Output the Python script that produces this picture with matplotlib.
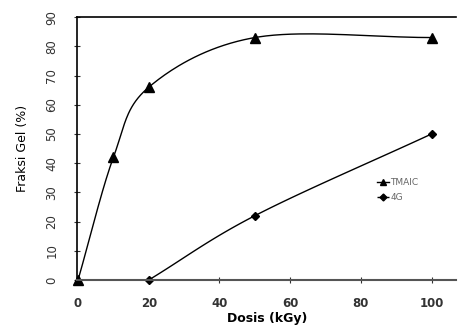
import matplotlib
matplotlib.use("Agg")
import matplotlib.pyplot as plt
import numpy as np

dosis_tmaic = [0, 10, 20, 50, 100]
gel_tmaic = [0, 42, 66, 83, 83]
dosis_4g = [20, 50, 100]
gel_4g = [0, 22, 50]
x_ticks = [0, 20, 40, 60, 80, 100]
y_ticks = [0, 10, 20, 30, 40, 50, 60, 70, 80, 90]


def smooth(xs, ys, n=40):
    # catmull-rom, mirip garis smooth excel
    xs = np.asarray(xs, float)
    ys = np.asarray(ys, float)
    px = np.concatenate([[2 * xs[0] - xs[1]], xs, [2 * xs[-1] - xs[-2]]])
    py = np.concatenate([[2 * ys[0] - ys[1]], ys, [2 * ys[-1] - ys[-2]]])
    ox, oy = [], []
    t = np.linspace(0, 1, n)
    for i in range(1, len(px) - 2):
        for arr, out in ((px, ox), (py, oy)):
            p0, p1, p2, p3 = arr[i - 1], arr[i], arr[i + 1], arr[i + 2]
            out.extend(0.5 * (2 * p1 + (-p0 + p2) * t
                              + (2 * p0 - 5 * p1 + 4 * p2 - p3) * t ** 2
                              + (-p0 + 3 * p1 - 3 * p2 + p3) * t ** 3))
    return np.array(ox), np.array(oy)


fig = plt.figure(figsize=(4.61, 3.29), dpi=100)
ax = fig.add_axes([0.167, 0.149, 0.823, 0.799])

sx, sy = smooth(dosis_tmaic, gel_tmaic)
ax.plot(sx, sy, color="black", lw=1)
ax.plot(dosis_tmaic, gel_tmaic, ls="none", marker="^", ms=7, color="black", clip_on=False)
sx, sy = smooth(dosis_4g, gel_4g)
ax.plot(sx, sy, color="black", lw=1)
ax.plot(dosis_4g, gel_4g, ls="none", marker="D", ms=4.5, color="black", clip_on=False)

# legenda
ax.plot([], [], color="black", lw=1, marker="^", ms=5, label="TMAIC")
ax.plot([], [], color="black", lw=1, ls="--", marker="D", ms=3.5, label="4G")
leg = ax.legend(loc="upper left", bbox_to_anchor=(0.78, 0.40), frameon=False,
                fontsize=6.5, handlelength=1.4, handletextpad=0.1, labelspacing=0.6,
                borderaxespad=0)
for t in leg.get_texts():
    t.set_color("#666666")

ax.set_xlim(-0.3, 107)
ax.set_ylim(0, 90)
ax.set_xticks(x_ticks)
ax.set_yticks(y_ticks)
ax.tick_params(axis="x", direction="inout", length=5, labelsize=8.5, colors="#333333", pad=10)
ax.tick_params(axis="y", direction="inout", length=5, labelsize=8.5, colors="#333333",
               labelrotation=90, pad=11)
for lab in ax.get_xticklabels():
    lab.set_fontweight("bold")
for lab in ax.get_yticklabels():
    lab.set_va("center")
ax.spines["right"].set_visible(False)
ax.spines["bottom"].set_color("#555555")
ax.spines["bottom"].set_linewidth(1.5)
ax.spines["left"].set_linewidth(1.2)
ax.spines["top"].set_linewidth(1.2)

ax.set_xlabel("Dosis (kGy)", fontsize=9, fontweight="bold", labelpad=1)
ax.set_ylabel("Fraksi Gel (%)", fontsize=9, labelpad=12)

fig.savefig("out.png", dpi=100)
